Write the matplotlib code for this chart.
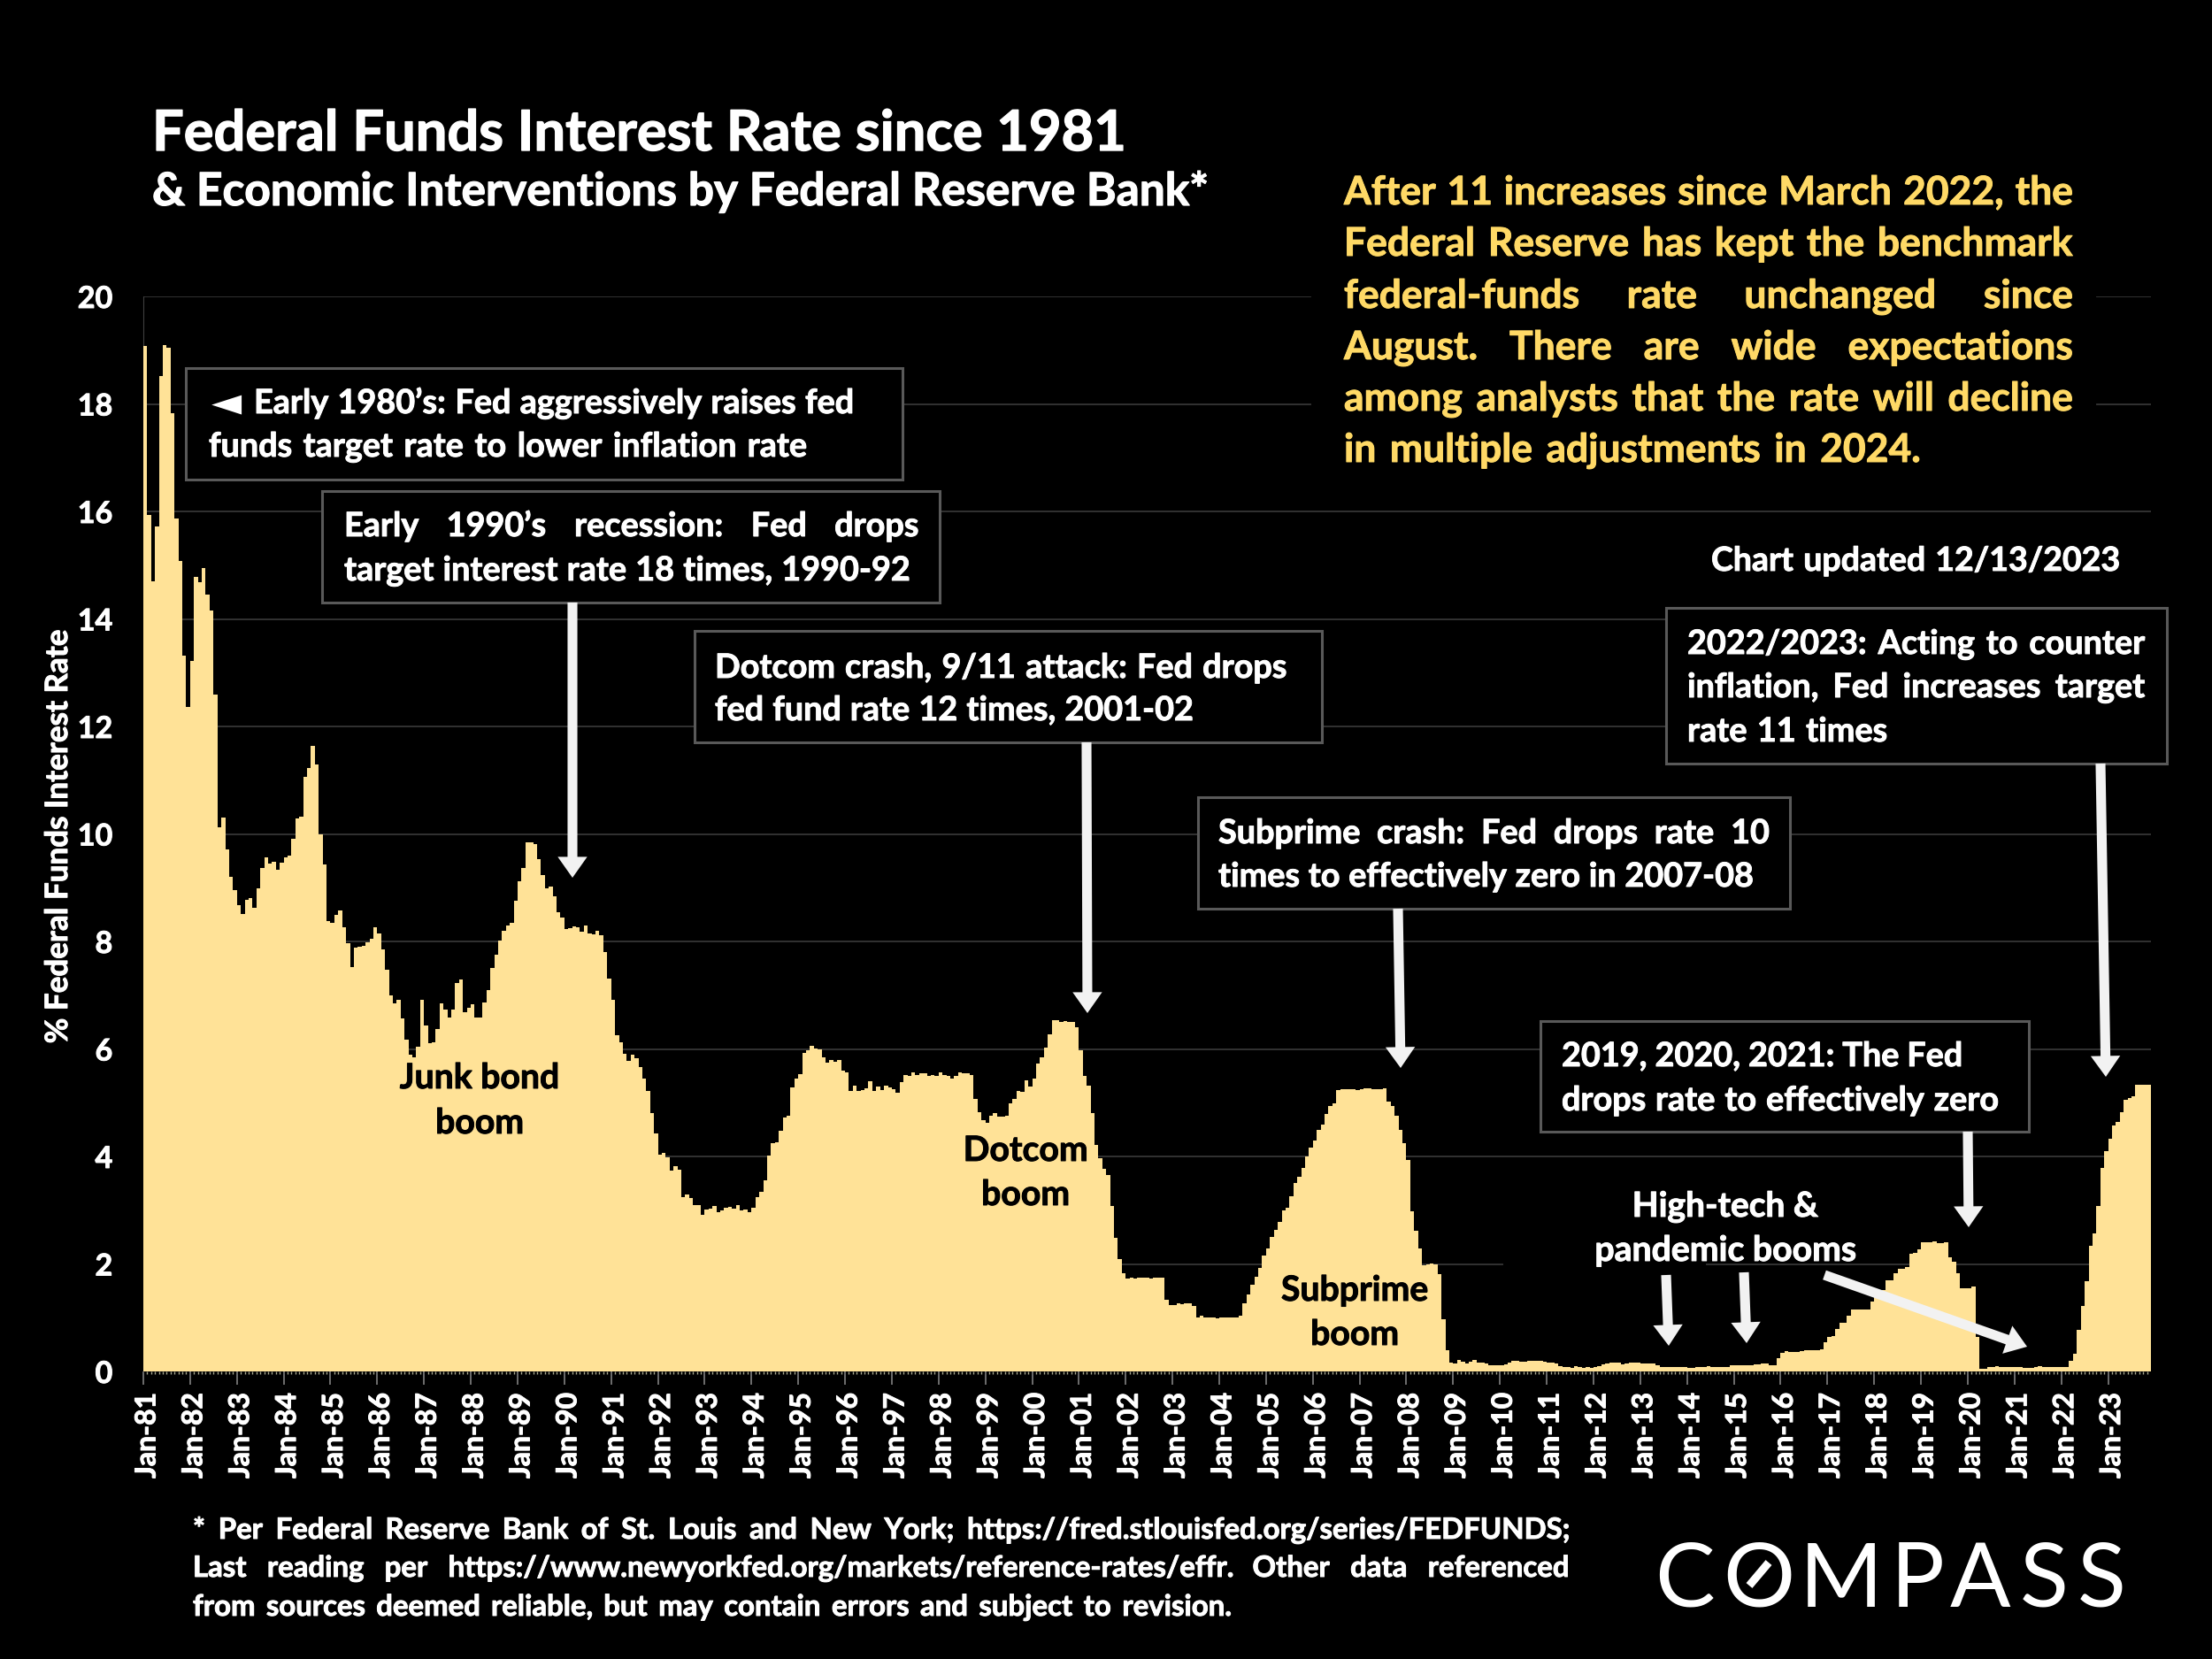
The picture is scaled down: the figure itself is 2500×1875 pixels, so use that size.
import matplotlib
matplotlib.use('Agg')
import matplotlib.pyplot as plt
import matplotlib.patheffects as pe
import matplotlib.transforms as mtrans
import numpy as np
from matplotlib.patches import Rectangle, FancyArrowPatch
from matplotlib.lines import Line2D

W, H = 2500, 1875
FONT = 'Lato'

# monthly effective fed funds rate, Jan-81 to Nov-23
rates_1980s = [
    19.08, 15.93, 14.70, 15.72, 18.52, 19.10, 19.04, 17.82, 15.87, 15.08, 13.31, 12.37,
    13.22, 14.78, 14.68, 14.94, 14.45, 14.15, 12.59, 10.12, 10.31, 9.71, 9.20, 8.95,
    8.68, 8.51, 8.77, 8.80, 8.63, 8.98, 9.37, 9.56, 9.45, 9.48, 9.34, 9.47,
    9.56, 9.59, 9.91, 10.29, 10.32, 11.06, 11.23, 11.64, 11.30, 9.99, 9.43, 8.38,
    8.35, 8.50, 8.58, 8.27, 7.97, 7.53, 7.88, 7.90, 7.92, 7.99, 8.05, 8.27,
    8.14, 7.86, 7.48, 6.99, 6.85, 6.92, 6.56, 6.17, 5.89, 5.85, 6.04, 6.91,
    6.43, 6.10, 6.13, 6.37, 6.85, 6.73, 6.58, 6.73, 7.22, 7.29, 6.69, 6.77,
    6.83, 6.58, 6.58, 6.87, 7.09, 7.51, 7.75, 8.01, 8.19, 8.30, 8.35, 8.76,
    9.12, 9.36, 9.85, 9.84, 9.81, 9.53, 9.24, 8.99, 9.02, 8.84, 8.55, 8.45,
]
rates_1990s = [
    8.23, 8.24, 8.28, 8.26, 8.18, 8.29, 8.15, 8.13, 8.20, 8.11, 7.81, 7.31,
    6.91, 6.25, 6.12, 5.91, 5.78, 5.90, 5.82, 5.66, 5.45, 5.21, 4.81, 4.43,
    4.03, 4.06, 3.98, 3.73, 3.82, 3.76, 3.25, 3.30, 3.22, 3.10, 3.09, 2.92,
    3.02, 3.03, 3.07, 2.96, 3.00, 3.04, 3.06, 3.03, 3.09, 2.99, 3.02, 2.96,
    3.05, 3.25, 3.34, 3.56, 4.01, 4.25, 4.26, 4.47, 4.73, 4.76, 5.29, 5.45,
    5.53, 5.92, 5.98, 6.05, 6.01, 6.00, 5.85, 5.74, 5.80, 5.76, 5.80, 5.60,
    5.56, 5.22, 5.31, 5.22, 5.24, 5.27, 5.40, 5.22, 5.30, 5.24, 5.31, 5.29,
    5.25, 5.19, 5.39, 5.51, 5.50, 5.56, 5.52, 5.54, 5.54, 5.50, 5.52, 5.50,
    5.56, 5.51, 5.49, 5.45, 5.49, 5.56, 5.54, 5.55, 5.51, 5.07, 4.83, 4.68,
    4.63, 4.76, 4.81, 4.74, 4.74, 4.76, 4.99, 5.07, 5.22, 5.20, 5.42, 5.30,
]
rates_2000s = [
    5.45, 5.73, 5.85, 6.02, 6.27, 6.53, 6.54, 6.50, 6.52, 6.51, 6.51, 6.40,
    5.98, 5.49, 5.31, 4.80, 4.21, 3.97, 3.77, 3.65, 3.07, 2.49, 2.09, 1.82,
    1.73, 1.74, 1.73, 1.75, 1.75, 1.75, 1.73, 1.74, 1.75, 1.75, 1.34, 1.24,
    1.24, 1.26, 1.25, 1.26, 1.26, 1.22, 1.01, 1.03, 1.01, 1.01, 1.00, 0.98,
    1.00, 1.01, 1.00, 1.00, 1.00, 1.03, 1.26, 1.43, 1.61, 1.76, 1.93, 2.16,
    2.28, 2.50, 2.63, 2.79, 3.00, 3.04, 3.26, 3.50, 3.62, 3.78, 4.00, 4.16,
    4.29, 4.49, 4.59, 4.79, 4.94, 4.99, 5.24, 5.25, 5.25, 5.25, 5.25, 5.24,
    5.25, 5.26, 5.26, 5.25, 5.25, 5.25, 5.26, 5.02, 4.94, 4.76, 4.49, 4.24,
    3.94, 2.98, 2.61, 2.28, 1.98, 2.00, 2.01, 2.00, 1.81, 0.97, 0.39, 0.16,
    0.15, 0.22, 0.18, 0.15, 0.18, 0.21, 0.16, 0.16, 0.15, 0.12, 0.12, 0.12,
]
rates_2010s = [
    0.11, 0.13, 0.16, 0.20, 0.20, 0.18, 0.18, 0.19, 0.19, 0.19, 0.19, 0.18,
    0.17, 0.16, 0.14, 0.10, 0.09, 0.09, 0.07, 0.10, 0.08, 0.07, 0.08, 0.07,
    0.08, 0.10, 0.13, 0.14, 0.16, 0.16, 0.16, 0.13, 0.14, 0.16, 0.16, 0.16,
    0.14, 0.15, 0.14, 0.15, 0.11, 0.09, 0.09, 0.08, 0.08, 0.09, 0.08, 0.09,
    0.07, 0.07, 0.08, 0.09, 0.09, 0.10, 0.09, 0.09, 0.09, 0.09, 0.09, 0.12,
    0.11, 0.11, 0.11, 0.12, 0.12, 0.13, 0.13, 0.14, 0.14, 0.12, 0.12, 0.24,
    0.34, 0.38, 0.36, 0.37, 0.37, 0.38, 0.39, 0.40, 0.40, 0.40, 0.41, 0.54,
    0.65, 0.66, 0.79, 0.90, 0.91, 1.04, 1.15, 1.16, 1.15, 1.15, 1.16, 1.30,
    1.41, 1.42, 1.51, 1.69, 1.70, 1.82, 1.91, 1.91, 1.95, 2.19, 2.20, 2.27,
    2.40, 2.40, 2.41, 2.42, 2.39, 2.38, 2.40, 2.13, 2.04, 1.83, 1.55, 1.55,
]
rates_2020s = [
    1.55, 1.58, 0.65, 0.05, 0.05, 0.08, 0.09, 0.10, 0.09, 0.09, 0.09, 0.09,
    0.09, 0.08, 0.07, 0.07, 0.06, 0.08, 0.10, 0.09, 0.08, 0.08, 0.08, 0.08,
    0.08, 0.08, 0.20, 0.33, 0.77, 1.21, 1.68, 2.33, 2.56, 3.08, 3.78, 4.10,
    4.33, 4.57, 4.65, 4.83, 5.06, 5.08, 5.12, 5.33, 5.33, 5.33, 5.33,
]
rates = rates_1980s + rates_1990s + rates_2000s + rates_2010s + rates_2020s
year_labels = ['Jan-%02d' % (y % 100) for y in range(1981, 2024)]
y_ticks = [0, 2, 4, 6, 8, 10, 12, 14, 16, 18, 20]

title = 'Federal Funds Interest Rate since 1981'
subtitle = '& Economic Interventions by Federal Reserve Bank*'
y_label = '% Federal Funds Interest Rate'
updated = 'Chart updated 12/13/2023'

BAR = '#FFE297'
YELLOW = '#FFD966'
EDGE = '#595959'
ARROW = '#F2F2F2'
HEAVY = 0.7


def fx(x):
    return x / W


def fy(y):
    return 1 - y / H


plt.rcParams['font.family'] = [FONT, 'DejaVu Sans']
fig = plt.figure(figsize=(W / 100, H / 100), dpi=100, facecolor='black')
ax = fig.add_axes([fx(162), fy(1550), (2431 - 162) / W, (1550 - 335) / H], facecolor='black')

x = np.arange(len(rates))
ax.bar(x, rates, width=1.0, color=BAR, linewidth=0, zorder=3)
ax.set_xlim(-0.5, len(rates) - 0.5)
ax.set_ylim(0, 20)
ax.set_yticks(y_ticks)
ax.set_yticklabels(y_ticks, fontsize=24.5, fontweight='bold', color='white')
ax.set_xticks(np.arange(0, len(rates), 12) - 0.5)
ax.set_xticklabels(year_labels, rotation=90, fontsize=23, fontweight='bold', color='white')
ax.set_xticks(np.arange(0, len(rates)) - 0.5, minor=True)
ax.tick_params(axis='x', which='major', length=11, width=1.2, color='#808080', pad=6)
ax.tick_params(axis='x', which='minor', length=2, width=1, color='#A8A890')
ax.tick_params(axis='y', length=0, pad=25)
ax.grid(axis='y', color='#3A3A3A', linewidth=1.2, zorder=0)
ax.set_axisbelow(True)
for s in ['top', 'right']:
    ax.spines[s].set_visible(False)
ax.spines['left'].set_color('#404040')
ax.spines['bottom'].set_visible(False)

# tick labels sit a little right of their ticks
shift = mtrans.ScaledTranslation(4 / 100, 0, fig.dpi_scale_trans)
for t in ax.get_xticklabels():
    t.set_transform(t.get_transform() + shift)
    t.set_path_effects([pe.withStroke(linewidth=HEAVY, foreground='white')])
for t in ax.get_yticklabels():
    t.set_path_effects([pe.withStroke(linewidth=HEAVY, foreground='white')])

fig.text(fx(66), fy(945), y_label, rotation=90, ha='center', va='center', fontsize=25.2,
         fontweight='bold', color='white',
         path_effects=[pe.withStroke(linewidth=HEAVY, foreground='white')])


def label(px, py, s, size, color='white', ha='left', weight='bold', heavy=HEAVY):
    t = fig.text(fx(px), fy(py), s, fontsize=size, color=color, ha=ha, va='baseline',
                 fontweight=weight, zorder=5)
    if heavy:
        t.set_path_effects([pe.withStroke(linewidth=heavy, foreground=color)])
    return t


def justified(x0, x1, py, s, size, color='white', weight='bold', heavy=HEAVY):
    # spread the words over x0..x1 like a justified text box
    words = s.split()
    r = fig.canvas.get_renderer()
    ws = []
    for w in words:
        t = label(0, 0, w, size, color, weight=weight, heavy=0)
        ws.append(t.get_window_extent(r).width)
        t.remove()
    gap = (x1 - x0 - sum(ws)) / (len(words) - 1)
    cur = x0
    for w, wd in zip(words, ws):
        label(cur, py, w, size, color, weight=weight, heavy=heavy)
        cur += wd + gap


def box(x0, y0, x1, y1, edge=EDGE):
    fig.add_artist(Rectangle((fx(x0), fy(y1)), (x1 - x0) / W, (y1 - y0) / H,
                             transform=fig.transFigure, facecolor='black', edgecolor=edge,
                             linewidth=2.2, zorder=3))


def arrow(x0, y0, x1, y1):
    fig.add_artist(FancyArrowPatch((fx(x0), fy(y0)), (fx(x1), fy(y1)),
                                   transform=fig.transFigure, shrinkA=0, shrinkB=0,
                                   arrowstyle='simple,head_length=17,head_width=24,tail_width=8',
                                   mutation_scale=1, color=ARROW, linewidth=0, zorder=4))


# titles
justified(172, 1273, 170, title, 45.5, heavy=1.0)
justified(172, 1366, 232, subtitle, 37, heavy=0.9)

# paragraph top right, sits on a black patch that hides the gridlines
box(1483, 190, 2367, 534, edge='black')
justified(1519, 2343, 231, 'After 11 increases since March 2022, the', 32, YELLOW)
justified(1519, 2343, 289, 'Federal Reserve has kept the benchmark', 32, YELLOW)
justified(1519, 2343, 348, 'federal-funds rate unchanged since', 32, YELLOW)
justified(1519, 2343, 406, 'August. There are wide expectations', 32, YELLOW)
justified(1519, 2343, 464, 'among analysts that the rate will decline', 32, YELLOW)
justified(1519, 2171, 522, 'in multiple adjustments in 2024.', 32, YELLOW)
justified(1934, 2396, 645, updated, 27)

# callouts
box(210, 416, 1020, 542)
label(239, 468, '\u25C4', 32, heavy=0)
justified(287, 965, 467, 'Early 1980\u2019s: Fed aggressively raises fed', 27.2)
justified(236, 912, 516, 'funds target rate to lower inflation rate', 27.2)

box(364, 555, 1062, 681)
justified(389, 1038, 606, 'Early 1990\u2019s recession: Fed drops', 27.2)
justified(389, 1029, 656, 'target interest rate 18 times, 1990-92', 27.2)

box(785, 713, 1494, 839)
justified(808, 1454, 766, 'Dotcom crash, 9/11 attack: Fed drops', 27.2)
justified(808, 1349, 814, 'fed fund rate 12 times, 2001-02', 27.2)

box(1354, 901, 2023, 1027)
justified(1377, 2000, 953, 'Subprime crash: Fed drops rate 10', 27.2)
justified(1377, 1982, 1002, 'times to effectively zero in 2007-08', 27.2)

box(1883, 687, 2449, 863)
justified(1907, 2424, 739, '2022/2023: Acting to counter', 27.2)
justified(1907, 2424, 788, 'inflation, Fed increases target', 27.2)
justified(1907, 2133, 838, 'rate 11 times', 27.2)

box(1741, 1154, 2293, 1279)
justified(1765, 2218, 1205, '2019, 2020, 2021: The Fed', 27.2)
justified(1765, 2259, 1255, 'drops rate to effectively zero', 27.2)

# arrows
arrow(647, 681, 647, 992)
arrow(1228, 839, 1229, 1145)
arrow(1580, 1027, 1583, 1207)
arrow(2374, 863, 2380, 1217)
arrow(2224, 1279, 2225, 1387)
arrow(1883, 1441, 1886, 1521)
arrow(1971, 1438, 1974, 1518)
arrow(2062, 1441, 2291, 1522)

# boom labels inside the area
for cx, y1, y2, a, b in [(542, 1230, 1281, 'Junk bond', 'boom'),
                         (1159, 1312, 1362, 'Dotcom', 'boom'),
                         (1531, 1470, 1520, 'Subprime', 'boom')]:
    label(cx, y1, a, 28.2, 'black', ha='center')
    label(cx, y2, b, 28.2, 'black', ha='center')

box(1700, 1330, 1926, 1440, edge='black')
label(1950, 1375, 'High-tech &', 28, ha='center')
label(1950, 1425, 'pandemic booms', 28.2, ha='center')

# footnote
justified(218, 1773, 1739, '* Per Federal Reserve Bank of St. Louis and New York; https://fred.stlouisfed.org/series/FEDFUNDS;', 23.7)
justified(218, 1773, 1782, 'Last reading per https://www.newyorkfed.org/markets/reference-rates/effr. Other data referenced', 23.7)
justified(218, 1392, 1826, 'from sources deemed reliable, but may contain errors and subject to revision.', 23.7)

# logo
logo_letters = ['C', 'O', 'M', 'P', 'A', 'S', 'S']
logo_x = [1904, 1988, 2081, 2167, 2238, 2310, 2375]
for ch, lx in zip(logo_letters, logo_x):
    label(lx, 1816, ch, 73, ha='center', weight='normal', heavy=0)
fig.add_artist(Line2D([fx(1977), fx(1999)], [fy(1792), fy(1766)], transform=fig.transFigure,
                      color='white', linewidth=6.5, solid_capstyle='butt', zorder=5))

fig.savefig('out.png', dpi=100, facecolor='black')
